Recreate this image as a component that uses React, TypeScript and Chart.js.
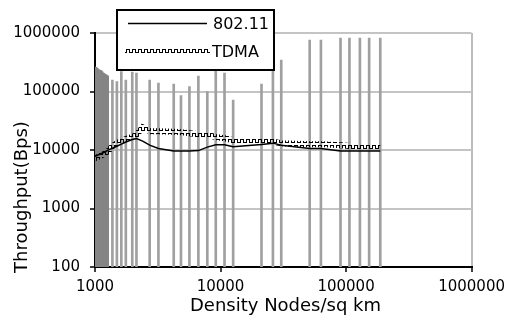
import React, { useEffect, useRef } from "react";
import { Chart, registerables } from "chart.js";

Chart.register(...registerables);

// ---- data ----
const densities = [1000, 1100, 1200, 1270, 1376, 1494, 1621, 1760, 1981, 2139, 2397, 2726, 3201, 4238, 4841, 5652, 6660, 7846, 9163, 10757, 12608, 21200, 26140, 30460, 51310, 63050, 90310, 106400, 128900, 152700, 187300];
const throughput80211 = [7840, 8530, 9250, 9930, 10700, 11600, 12600, 13700, 15100, 15700, 14200, 12100, 10600, 9600, 9600, 9600, 9770, 11200, 12300, 12300, 11400, 12400, 13100, 12100, 10600, 10600, 9660, 9660, 9660, 9660, 9660];
const throughputTDMA = [7240, 7840, 8830, 9530, 11600, 13100, 14200, 15400, 16700, 18100, 24500, 21000, 21000, 20500, 20200, 19400, 18600, 18100, 16700, 15900, 14700, 13800, 13800, 13100, 12600, 12600, 12000, 11700, 11700, 11700, 11700];

// error bars of 802.11 (densely packed near 1000 nodes/sq km, then sparse)
const errorDenseX = [1000, 1017, 1035, 1053, 1071, 1090, 1109, 1128, 1148, 1168, 1188, 1209, 1230, 1252, 1270];
const errorDenseTop = [265000, 262000, 258000, 250000, 240000, 236000, 232000, 228000, 220000, 210000, 205000, 200000, 195000, 190000, 186000];
const errorX = [1376, 1494, 1621, 1760, 1981, 2139, 2726, 3201, 4238, 4841, 5652, 6660, 7846, 9163, 10757, 12608, 21200, 26140, 30460, 51310, 63050, 90310, 106400, 128900, 152700, 187300];
const errorTop = [157000, 148000, 219000, 157000, 215000, 206000, 157000, 139000, 134000, 85000, 121000, 184000, 99600, 226000, 206000, 71300, 134000, 400000, 345000, 759000, 759000, 820000, 820000, 820000, 820000, 820000];

const xTicks = [1000, 10000, 100000, 1000000];
const yTicks = [100, 1000, 10000, 100000, 1000000];

const seriesLabels = ["802.11", "TDMA"];
const xTitle = "Density Nodes/sq km";
const yTitle = "Throughput(Bps)";

const FONT = '"DejaVu Sans"';

function makeWavePattern(ctx: CanvasRenderingContext2D) {
  const tile = document.createElement("canvas");
  tile.width = 6;
  tile.height = 6;
  const t = tile.getContext("2d")!;
  t.fillStyle = "#000";
  t.fillRect(0, 1, 4, 1);
  t.fillRect(0, 1, 1, 4);
  t.fillRect(3, 1, 1, 4);
  t.fillRect(3, 4, 3, 1);
  return ctx.createPattern(tile, "repeat")!;
}

export default function App() {
  const ref = useRef<HTMLCanvasElement | null>(null);

  useEffect(() => {
    document.body.style.margin = "0";
    const canvas = ref.current!;
    const ctx0 = canvas.getContext("2d")!;
    const wave = makeWavePattern(ctx0);
    const yMin = yTicks[0];

    const denseBarDatasets = errorDenseX.map((x, i) => ({
      label: "802.11 error",
      data: [
        { x, y: errorDenseTop[i] },
        { x, y: yMin },
      ],
      showLine: true,
      borderColor: "#858585",
      borderWidth: 2,
      pointRadius: 0,
      order: 2,
    }));

    const overlay = {
      id: "overlay",
      afterDatasetsDraw(chart: any) {
        const ctx = chart.ctx as CanvasRenderingContext2D;
        ctx.save();
        ctx.fillStyle = "#fff";
        ctx.fillRect(117, 10, 157, 60);
        ctx.strokeStyle = "#000";
        ctx.lineWidth = 2;
        ctx.strokeRect(117, 10, 157, 60);
        ctx.beginPath();
        ctx.moveTo(128, 23.5);
        ctx.lineTo(207, 23.5);
        ctx.lineWidth = 1.5;
        ctx.strokeStyle = "#000";
        ctx.stroke();
        ctx.beginPath();
        ctx.moveTo(125, 51);
        ctx.lineTo(210, 51);
        ctx.lineWidth = 6;
        ctx.strokeStyle = wave;
        ctx.stroke();
        ctx.fillStyle = "#000";
        ctx.font = `16px ${FONT}`;
        ctx.textBaseline = "alphabetic";
        ctx.textAlign = "left";
        ctx.fillText(chart.data.datasets[0].label, 213, 28.5);
        ctx.fillText(chart.data.datasets[1].label, 212, 56.5);
        ctx.restore();
      },
      afterDraw(chart: any) {
        const ctx = chart.ctx as CanvasRenderingContext2D;
        ctx.save();
        ctx.fillStyle = "#000";
        ctx.font = `18px ${FONT}`;
        ctx.textAlign = "center";
        ctx.textBaseline = "alphabetic";
        ctx.fillText(xTitle, 285.5, 311);
        ctx.translate(26.5, 197);
        ctx.rotate(-Math.PI / 2);
        ctx.fillText(yTitle, 0, 0);
        ctx.restore();
      },
    };

    const chart = new Chart(canvas, {
      type: "scatter",
      data: {
        datasets: [
          {
            label: seriesLabels[0],
            data: densities.map((x, i) => ({ x, y: throughput80211[i] })),
            showLine: true,
            borderColor: "#000",
            borderWidth: 1.5,
            pointRadius: 0,
            order: 0,
          },
          {
            label: seriesLabels[1],
            data: densities.map((x, i) => ({ x, y: throughputTDMA[i] })),
            showLine: true,
            borderColor: wave as any,
            borderWidth: 6,
            pointRadius: 0,
            order: 1,
          },
          ...denseBarDatasets,
          {
            type: "bar",
            label: "802.11 error",
            data: errorX.map((x, i) => ({ x, y: [yMin, errorTop[i]] })),
            backgroundColor: "#a0a0a0",
            borderWidth: 0,
            barThickness: 2,
            order: 3,
          },
        ],
      },
      options: {
        responsive: false,
        animation: false,
        devicePixelRatio: 1,
        events: [],
        layout: { padding: { left: 0, top: 33, right: 37, bottom: 0 } },
        plugins: {
          legend: { display: false },
          tooltip: { enabled: false },
        },
        scales: {
          x: {
            type: "logarithmic",
            stacked: false,
            offset: false,
            min: xTicks[0],
            max: xTicks[xTicks.length - 1],
            afterBuildTicks: (ax: any) => {
              ax.ticks = xTicks.map((v) => ({ value: v }));
            },
            afterFit: (s: any) => {
              s.height = 53;
            },
            ticks: {
              callback: (v: any) => String(v),
              color: "#000",
              font: { family: FONT, size: 15 },
              padding: 6,
              autoSkip: false,
              maxRotation: 0,
            },
            grid: {
              offset: false,
              color: (c: any) => (c.tick && c.tick.value === 1000000 ? "#bdbdbd" : "rgba(0,0,0,0)"),
              lineWidth: 2,
              tickColor: "#000",
              tickLength: 5,
              tickWidth: 1.5,
            },
            border: { color: "#000", width: 2 },
          },
          y: {
            type: "logarithmic",
            stacked: false,
            min: yTicks[0],
            max: yTicks[yTicks.length - 1],
            afterBuildTicks: (ax: any) => {
              ax.ticks = yTicks.map((v) => ({ value: v }));
            },
            afterFit: (s: any) => {
              s.width = 95;
            },
            ticks: {
              callback: (v: any) => String(v),
              color: "#000",
              font: { family: FONT, size: 15 },
              padding: 10,
              autoSkip: false,
            },
            grid: {
              color: "#c4c4c4",
              lineWidth: 2,
              tickColor: "#000",
              tickLength: 5,
              tickWidth: 1.5,
            },
            border: { color: "#000", width: 2 },
          },
        },
      },
      plugins: [overlay],
    } as any);

    return () => chart.destroy();
  }, []);

  return (
    <div style={{ position: "fixed", left: 0, top: 0, width: 511, height: 320 }}>
      <canvas ref={ref} width={511} height={320} />
    </div>
  );
}
